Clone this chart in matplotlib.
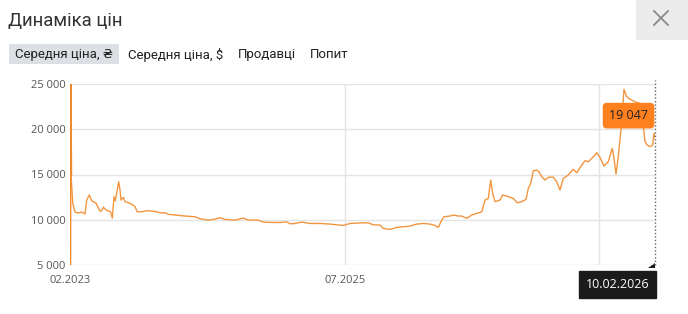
import matplotlib
matplotlib.use("Agg")
import matplotlib.pyplot as plt
from matplotlib.patches import Rectangle, Polygon

# ---------- data ----------
# x is the position of each sample along the chart (the original axis is not linear in time)
pos = [0, 0.3, 1, 2.7, 5, 8, 11.7, 15, 16.7, 19.3, 21.7, 23.3, 26, 28.3, 30, 31.7,
       33.3, 35, 38.3, 40.7, 42.3, 44, 45.3, 46.7, 48.7, 50, 51, 53.3, 55, 58.3,
       61.7, 65, 67.3, 71.7, 76.7, 81.7, 86.7, 90, 95, 98.3, 105, 115, 125, 130,
       138.3, 145, 150, 155, 165, 173.3, 178.3, 188.3, 193.3, 201.7, 211.7, 216.7,
       220, 225, 231.7, 240, 250, 260, 273.3, 280, 293.3, 298.3, 303.3, 310, 313.3,
       320, 326.7, 333.3, 340, 346.7, 353.3, 360, 365, 368.3, 371.7, 374, 380,
       383.3, 388.3, 391.7, 396.7, 401.7, 406.7, 411.7, 415, 418.3, 420.7, 422.7,
       425, 430, 432.7, 436.7, 443.3, 447.3, 451.7, 456, 458.3, 460.7, 463.3,
       466.7, 469, 471.7, 475, 478.3, 483.3, 486.7, 490, 493.3, 498.3, 503.3,
       506.7, 511.7, 515, 518.3, 521.7, 524, 526.7, 530, 534, 538.3, 542.3, 544,
       546, 548.3, 551.7, 554, 556.7, 560, 565, 571.7, 574, 575, 577.3, 580,
       582.7, 584, 585]
price = [5000, 25000, 15000, 11840, 10850, 10740, 10850, 10630, 12180, 12730, 12100,
         12000, 11840, 11300, 10960, 11000, 11400, 11180, 10960, 10880, 10180, 12540,
         12100, 12940, 14200, 13280, 12180, 12470, 12000, 11880, 11730, 11440, 10880,
         10880, 11000, 10960, 10880, 10770, 10770, 10600, 10520, 10410, 10330, 10110,
         9960, 10070, 10220, 10040, 9960, 10180, 9960, 9960, 9740, 9700, 9700, 9770,
         9550, 9590, 9740, 9590, 9590, 9520, 9370, 9590, 9660, 9660, 9440, 9410, 9040,
         8930, 9150, 9220, 9300, 9520, 9590, 9520, 9370, 9150, 9960, 10330, 10410,
         10520, 10410, 10410, 10150, 10520, 10700, 10880, 12180, 12360, 14380, 12910,
         12000, 12180, 12730, 12620, 12360, 11880, 12000, 12250, 13460, 14020, 15410,
         15490, 15300, 14750, 14380, 14700, 14700, 14200, 13280, 14570, 14940, 15570,
         15190, 16040, 16520, 16410, 16780, 17040, 17410, 16890, 15930, 16410, 17890,
         16780, 15050, 16960, 20830, 24410, 23600, 23310, 23040, 22790, 19630, 18630,
         18260, 18080, 18260, 19550, 19047]

x_ticks = [0, 275]
x_tick_labels = ["02.2023", "07.2025"]
x_grid = [0, 275, 529]
y_ticks = [5000, 10000, 15000, 20000, 25000]
last_date = "10.02.2026"

tabs = ["Середня ціна, ₴", "Середня ціна, $", "Продавці", "Попит"]
tab_x = [15, 128, 238, 310]
title = "Динаміка цін"

# ---------- figure ----------
W, H = 688, 314
fig = plt.figure(figsize=(W / 100, H / 100), dpi=100)
fig.patch.set_facecolor("white")

# pixel-space overlay for the header chrome
ui = fig.add_axes([0, 0, 1, 1])
ui.set_xlim(0, W)
ui.set_ylim(H, 0)
ui.axis("off")

ui.text(8, 21, title, fontsize=13.4, family="Roboto", color="#333333", va="center")
ui.add_patch(Rectangle((636, 0), 52, 40, color="#ececec", lw=0))
ui.plot([654, 668], [11, 25], color="#8a8a8a", lw=1.3)
ui.plot([654, 668], [25, 11], color="#8a8a8a", lw=1.3)

ui.add_patch(Rectangle((9, 44), 110, 20, color="#dcdfe3", lw=0))
for t, tx in zip(tabs, tab_x):
    ui.text(tx, 54.5, t, fontsize=9.5, family=["Roboto", "DejaVu Sans"],
            color="#222222", va="center")

# ---------- chart ----------
L, R, T, B = 70, 655, 84, 265
ax = fig.add_axes([L / W, 1 - B / H, (R - L) / W, (B - T) / H])
ax.set_facecolor("none")
ax.set_xlim(0, 585)
ax.set_ylim(5000, 25000)

for y in y_ticks:
    ax.axhline(y, color="#e4e4e4", lw=1, zorder=0)
for x in x_grid:
    ax.axvline(x, color="#e4e4e4", lw=1, zorder=0)

ax.plot(pos, price, color="#f29540", lw=1.0, zorder=3, solid_joinstyle="round")
ax.plot(pos[:3], price[:3], color="#f08a2c", lw=1.8, zorder=3)

ax.axvline(pos[-1], color="#666666", lw=1, linestyle=(0, (1, 1.5)), zorder=4,
           ymax=1.02, clip_on=False)

ax.set_yticks(y_ticks)
ax.set_yticklabels([f"{v:,}".replace(",", " ") for v in y_ticks])
ax.set_xticks(x_ticks)
ax.set_xticklabels(x_tick_labels)
ax.tick_params(length=0, labelsize=8, labelcolor="#555555")
ax.tick_params(axis="y", pad=3)
ax.tick_params(axis="x", pad=7)
for lab in ax.get_xticklabels() + ax.get_yticklabels():
    lab.set_family("Open Sans")
for s in ax.spines.values():
    s.set_visible(False)

# value label for the last point
ax.annotate(f"{price[-1]:,}".replace(",", " "), xy=(pos[-1], price[-1]),
            xytext=(-5, 16), textcoords="offset points", ha="right", va="center",
            fontsize=9, family="Open Sans", color="#222222", zorder=6,
            bbox=dict(boxstyle="round,pad=0.45,rounding_size=0.25",
                      fc="#ff801f", ec="#ff801f"))

# date label under the axis
ax.annotate(last_date, xy=(pos[-1], 5000), xytext=(-4, -14), textcoords="offset points",
            ha="right", va="center", fontsize=9, family="Open Sans", color="white",
            zorder=6, annotation_clip=False,
            bbox=dict(boxstyle="square,pad=0.55", fc="#1b1b1b", ec="#1b1b1b"))
ui.add_patch(Polygon([[648, 268], [655, 263], [655, 268]], closed=True,
                     color="#1b1b1b", lw=0))

fig.savefig("out.png", dpi=100)
